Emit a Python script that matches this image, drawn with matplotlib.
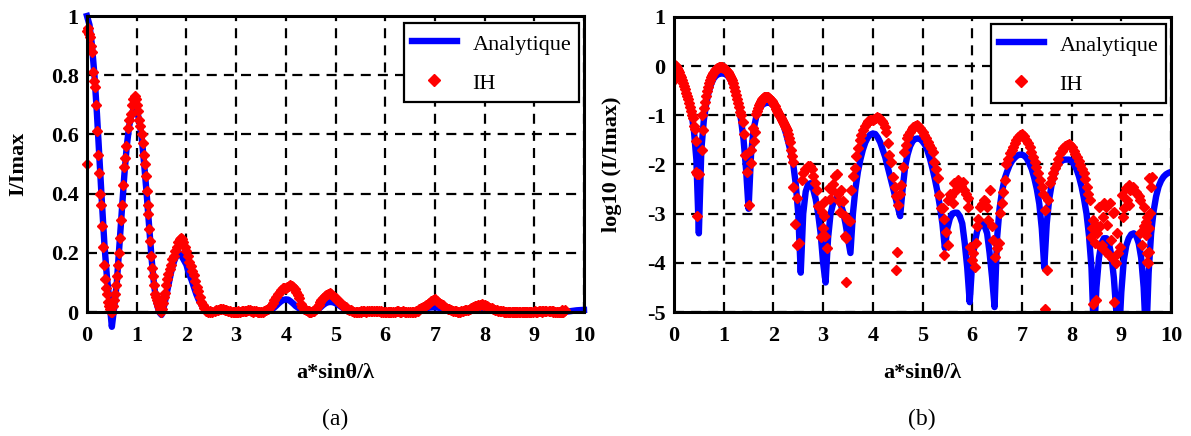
import numpy as np
import matplotlib.pyplot as plt

# analytic curve, log10(I/Imax), sampled every 0.05 from 0 to 10
ana_step = 0.05
ana_log = [
    0.0, -0.03, -0.1, -0.2, -0.33, -0.5, -0.7, -0.95, -1.3, -1.9,
    -3.4, -1.7, -1.1, -0.75, -0.52, -0.36, -0.25, -0.19, -0.16, -0.15,
    -0.15, -0.17, -0.22, -0.3, -0.42, -0.58, -0.8, -1.1, -1.5, -2.1,
    -2.9, -1.8, -1.3, -1.05, -0.9, -0.82, -0.77, -0.75, -0.74, -0.76,
    -0.8, -0.87, -0.95, -1.06, -1.2, -1.36, -1.55, -1.75, -2.0, -2.4,
    -3.0, -4.2, -3.0, -2.55, -2.4, -2.38, -2.5, -2.7, -3.0, -3.4,
    -4.0, -4.4, -3.5, -3.0, -2.8, -2.7, -2.7, -2.8, -2.95, -3.2,
    -3.5, -3.8, -3.0, -2.5, -2.15, -1.9, -1.7, -1.55, -1.45, -1.39,
    -1.37, -1.38, -1.45, -1.55, -1.7, -1.85, -2.05, -2.25, -2.45, -2.65,
    -2.85, -3.05, -2.5, -2.05, -1.8, -1.63, -1.53, -1.48, -1.47, -1.48,
    -1.53, -1.6, -1.72, -1.88, -2.08, -2.3, -2.55, -2.85, -3.2, -3.7,
    -3.3, -3.1, -3.0, -2.98, -2.98, -3.05, -3.2, -3.6, -4.1, -4.8,
    -4.0, -3.6, -3.35, -3.25, -3.2, -3.25, -3.4, -3.8, -4.3, -4.9,
    -3.5, -2.9, -2.55, -2.3, -2.15, -2.02, -1.93, -1.87, -1.82, -1.8,
    -1.8, -1.82, -1.88, -1.98, -2.1, -2.28, -2.5, -2.8, -3.3, -4.1,
    -3.2, -2.7, -2.4, -2.2, -2.07, -1.98, -1.93, -1.9, -1.9, -1.9,
    -1.93, -2.0, -2.1, -2.25, -2.45, -2.7, -3.0, -3.45, -4.1, -5.5,
    -4.5, -3.9, -3.6, -3.5, -3.5, -3.6, -3.85, -4.3, -5.0, -5.6,
    -4.6, -3.95, -3.65, -3.5, -3.42, -3.4, -3.45, -3.6, -3.9, -4.5,
    -5.6, -4.2, -3.4, -2.95, -2.65, -2.45, -2.33, -2.25, -2.2, -2.17,
    -2.15,
]

# analytic curve, linear I/Imax, for x = 0 .. 2.45 (rest follows the log data)
ana_lin_head = [
    1.0, 0.97, 0.9, 0.8, 0.67, 0.52, 0.37, 0.23, 0.12, 0.04,
    -0.05, 0.02, 0.1, 0.22, 0.34, 0.46, 0.56, 0.63, 0.67, 0.69,
    0.68, 0.65, 0.59, 0.5, 0.4, 0.29, 0.18, 0.09, 0.03, 0.0,
    -0.01, 0.02, 0.06, 0.1, 0.14, 0.17, 0.19, 0.2, 0.19, 0.175,
    0.16, 0.13, 0.11, 0.085, 0.06, 0.04, 0.025, 0.013, 0.006, 0.002,
]

# IH points, linear, x < 2.4
ih_lin_pts = [
    (0.0, 0.5), (0.00, 0.95), (0.02, 0.96), (0.04, 0.94), (0.06, 0.93), (0.09, 0.9),
    (0.11, 0.88), (0.13, 0.81), (0.15, 0.78), (0.17, 0.76), (0.19, 0.70), (0.21, 0.61),
    (0.23, 0.53), (0.25, 0.47), (0.27, 0.40), (0.28, 0.36), (0.30, 0.29), (0.32, 0.22),
    (0.34, 0.16), (0.36, 0.11), (0.38, 0.08), (0.40, 0.06), (0.42, 0.035), (0.44, 0.02),
    (0.46, 0.01), (0.48, 0.0), (0.50, 0.0), (0.52, 0.02), (0.54, 0.04), (0.56, 0.06),
    (0.58, 0.09), (0.60, 0.12), (0.62, 0.16), (0.64, 0.20), (0.66, 0.25), (0.68, 0.31),
    (0.70, 0.36), (0.72, 0.43), (0.74, 0.49), (0.76, 0.52), (0.79, 0.56), (0.82, 0.62),
    (0.85, 0.65), (0.88, 0.67), (0.91, 0.70), (0.93, 0.72), (0.96, 0.73), (0.98, 0.72),
    (1.00, 0.70), (1.02, 0.68), (1.04, 0.65), (1.07, 0.63), (1.10, 0.60), (1.12, 0.57),
    (1.14, 0.53), (1.16, 0.50), (1.18, 0.46), (1.20, 0.41), (1.22, 0.36), (1.23, 0.33),
    (1.25, 0.28), (1.26, 0.24), (1.28, 0.19), (1.30, 0.15), (1.32, 0.12), (1.34, 0.09),
    (1.36, 0.06), (1.38, 0.05), (1.40, 0.04), (1.42, 0.03), (1.44, 0.02), (1.46, 0.01),
    (1.48, 0.0), (1.50, 0.01), (1.52, 0.03), (1.54, 0.05), (1.56, 0.065), (1.58, 0.09),
    (1.60, 0.11), (1.63, 0.13), (1.66, 0.145), (1.69, 0.16), (1.72, 0.18), (1.75, 0.19),
    (1.78, 0.205), (1.81, 0.22), (1.84, 0.235), (1.87, 0.245), (1.90, 0.25), (1.92, 0.245),
    (1.94, 0.235), (1.97, 0.22), (2.00, 0.205), (2.03, 0.19), (2.06, 0.17), (2.09, 0.155),
    (2.12, 0.14), (2.15, 0.125), (2.18, 0.105), (2.21, 0.085), (2.24, 0.07), (2.27, 0.05),
    (2.30, 0.035), (2.33, 0.022), (2.36, 0.012), (2.39, 0.006),
]

# IH points, log10(I/Imax)
ih_log_pts = [
    (0.0, -0.28), (0.02, 0.02), (0.04, 0.0), (0.06, -0.03), (0.08, -0.07), (0.10, -0.12),
    (0.12, -0.17), (0.14, -0.22), (0.16, -0.28), (0.18, -0.34), (0.20, -0.40), (0.22, -0.47),
    (0.24, -0.54), (0.26, -0.60), (0.28, -0.67), (0.30, -0.75), (0.32, -0.83), (0.34, -0.92),
    (0.36, -1.0), (0.38, -1.05), (0.40, -1.22), (0.42, -1.28), (0.44, -1.53), (0.45, -2.15),
    (0.47, -2.2), (0.47, -3.05), (0.51, -2.2), (0.56, -1.7), (0.59, -1.3), (0.57, -1.0),
    (0.60, -0.85), (0.62, -0.72), (0.64, -0.6), (0.66, -0.5), (0.68, -0.42), (0.70, -0.35),
    (0.72, -0.28), (0.74, -0.23), (0.76, -0.18), (0.78, -0.14), (0.80, -0.11), (0.82, -0.08),
    (0.84, -0.06), (0.86, -0.04), (0.88, -0.03), (0.90, -0.02), (0.92, -0.02), (0.94, -0.02),
    (0.96, -0.02), (0.98, -0.03), (1.00, -0.04), (1.02, -0.05), (1.04, -0.07), (1.06, -0.09),
    (1.08, -0.12), (1.10, -0.15), (1.12, -0.19), (1.14, -0.24), (1.16, -0.29), (1.18, -0.35),
    (1.20, -0.42), (1.22, -0.5), (1.24, -0.58), (1.26, -0.66), (1.28, -0.75), (1.30, -0.84),
    (1.32, -0.93), (1.35, -1.0), (1.38, -1.13), (1.41, -1.37), (1.43, -1.8), (1.47, -2.15),
    (1.50, -2.82), (1.54, -1.97), (1.55, -1.7), (1.58, -1.25), (1.60, -1.52), (1.63, -1.33),
    (1.65, -0.97), (1.68, -0.92), (1.70, -0.85), (1.72, -0.79), (1.74, -0.74), (1.76, -0.7),
    (1.78, -0.67), (1.80, -0.65), (1.82, -0.63), (1.84, -0.62), (1.86, -0.62), (1.88, -0.62),
    (1.90, -0.63), (1.92, -0.64), (1.94, -0.66), (1.96, -0.68), (1.98, -0.71), (2.00, -0.74),
    (2.02, -0.78), (2.04, -0.82), (2.06, -0.87), (2.08, -0.92), (2.10, -0.96), (2.12, -0.99),
    (2.14, -1.02), (2.16, -1.06), (2.18, -1.1), (2.20, -1.14), (2.22, -1.18), (2.24, -1.21),
    (2.26, -1.25), (2.28, -1.3), (2.30, -1.38), (2.32, -1.46), (2.34, -1.54), (2.36, -1.7),
    (2.38, -1.82), (2.40, -1.94), (2.40, -2.45), (2.44, -3.2), (2.47, -2.69), (2.48, -3.63),
    (2.51, -3.6), (2.57, -2.31), (2.60, -2.17), (2.63, -2.1), (2.67, -2.07), (2.70, -2.03),
    (2.74, -2.04), (2.77, -2.1), (2.80, -2.24), (2.84, -2.38), (2.87, -2.51), (2.90, -2.85),
    (2.94, -2.85), (2.96, -3.48), (2.97, -2.97), (3.00, -3.3), (3.01, -3.05), (3.04, -2.75),
    (3.04, -3.46), (3.07, -3.7), (3.11, -2.47), (3.14, -2.7), (3.17, -2.51), (3.20, -2.4),
    (3.24, -2.24), (3.27, -2.2), (3.29, -2.6), (3.31, -2.75), (3.34, -2.97), (3.37, -2.51),
    (3.40, -2.75), (3.44, -3.05), (3.44, -3.45), (3.47, -3.49), (3.47, -4.38), (3.50, -3.12),
    (3.54, -3.15), (3.57, -2.51), (3.61, -2.24), (3.64, -2.07), (3.67, -1.83), (3.71, -1.66),
    (3.74, -1.5), (3.77, -1.4), (3.81, -1.3), (3.84, -1.22), (3.88, -1.16), (3.91, -1.12),
    (3.94, -1.09), (3.97, -1.1), (4.00, -1.1), (4.03, -1.07), (4.06, -1.05), (4.09, -1.04),
    (4.12, -1.05), (4.15, -1.08), (4.18, -1.11), (4.21, -1.16), (4.24, -1.24), (4.27, -1.33),
    (4.30, -1.57), (4.33, -1.81), (4.37, -1.94), (4.40, -2.25), (4.44, -2.45), (4.47, -2.65),
    (4.51, -2.82), (4.48, -3.77), (4.46, -4.14), (4.54, -2.6), (4.57, -2.42), (4.61, -2.05),
    (4.63, -1.74), (4.66, -1.6), (4.68, -1.47), (4.71, -1.4), (4.74, -1.33), (4.78, -1.27),
    (4.81, -1.23), (4.85, -1.21), (4.88, -1.2), (4.91, -1.22), (4.94, -1.26), (4.97, -1.3),
    (5.01, -1.33), (5.04, -1.4), (5.08, -1.47), (5.11, -1.54), (5.14, -1.6), (5.18, -1.67),
    (5.21, -1.74), (5.24, -1.94), (5.28, -2.1), (5.31, -2.28), (5.34, -2.62), (5.37, -2.89),
    (5.41, -2.88), (5.44, -3.1), (5.44, -3.84), (5.47, -3.37), (5.51, -3.64), (5.51, -2.72),
    (5.55, -2.6), (5.58, -2.65), (5.61, -2.78), (5.64, -2.38), (5.68, -2.51), (5.71, -2.31),
    (5.74, -2.4), (5.78, -2.44), (5.81, -2.35), (5.84, -2.51), (5.88, -2.6), (5.91, -2.69),
    (5.92, -2.86), (5.96, -3.67), (5.99, -3.94), (6.02, -3.81), (6.06, -4.08), (6.08, -3.6),
    (6.09, -3.26), (6.12, -3.1), (6.16, -2.86), (6.20, -2.8), (6.23, -2.72), (6.26, -2.75),
    (6.29, -2.86), (6.32, -3.13), (6.36, -2.52), (6.39, -3.26), (6.42, -3.54), (6.46, -3.88),
    (6.49, -3.7), (6.53, -3.6), (6.56, -2.99), (6.59, -2.79), (6.62, -2.55), (6.66, -2.32),
    (6.69, -1.98), (6.72, -1.88), (6.76, -1.77), (6.80, -1.7), (6.83, -1.64), (6.86, -1.57),
    (6.89, -1.5), (6.92, -1.45), (6.96, -1.4), (7.01, -1.37), (7.05, -1.42), (7.09, -1.5),
    (7.12, -1.57), (7.16, -1.64), (7.19, -1.74), (7.23, -1.84), (7.26, -1.95), (7.29, -2.05),
    (7.33, -2.18), (7.36, -2.32), (7.40, -2.45), (7.43, -2.59), (7.46, -2.93), (7.50, -4.15),
    (7.46, -4.93), (7.53, -2.72), (7.56, -2.38), (7.60, -2.28), (7.63, -2.18), (7.66, -2.08),
    (7.70, -1.98), (7.73, -1.88), (7.77, -1.77), (7.80, -1.72), (7.83, -1.67), (7.87, -1.63),
    (7.90, -1.6), (7.94, -1.58), (7.97, -1.6), (8.01, -1.65), (8.04, -1.72), (8.07, -1.78),
    (8.10, -1.84), (8.14, -1.92), (8.17, -2.01), (8.20, -2.1), (8.24, -2.18), (8.27, -2.3),
    (8.30, -2.45), (8.33, -2.6), (8.37, -2.72), (8.40, -3.47), (8.42, -3.3), (8.44, -3.13),
    (8.44, -4.83), (8.47, -3.6), (8.49, -3.23), (8.50, -4.76), (8.52, -3.4), (8.56, -2.86),
    (8.57, -3.26), (8.60, -3.67), (8.62, -3.64), (8.64, -3.06), (8.66, -2.79), (8.69, -3.77),
    (8.70, -2.86), (8.72, -3.23), (8.76, -3.84), (8.77, -2.79), (8.79, -3.54), (8.82, -3.91),
    (8.84, -2.99), (8.86, -2.96), (8.86, -4.8), (8.89, -4.01), (8.91, -3.4), (8.94, -3.81),
    (8.97, -3.67), (9.02, -2.62), (9.04, -3.06), (9.06, -2.89), (9.09, -2.48), (9.11, -2.72),
    (9.15, -2.42), (9.16, -2.82), (9.18, -2.52), (9.22, -2.48), (9.24, -2.45), (9.29, -2.55),
    (9.31, -2.59), (9.35, -2.65), (9.38, -2.72), (9.38, -3.4), (9.42, -3.64), (9.45, -2.86),
    (9.45, -3.26), (9.49, -3.16), (9.49, -3.43), (9.51, -3.06), (9.51, -3.81), (9.52, -3.98),
    (9.54, -4.01), (9.56, -3.3), (9.56, -3.77), (9.56, -2.28), (9.58, -2.99), (9.59, -2.45),
    (9.61, -2.25),
]

x_ticks = list(range(0, 11))
lin_yticks = [0, 0.2, 0.4, 0.6, 0.8, 1]
lin_ylabels = ['0', '0.2', '0.4', '0.6', '0.8', '1']
log_yticks = [-5, -4, -3, -2, -1, 0, 1]

# ---- derived arrays
ana_log = np.array(ana_log)
ana_x = np.arange(len(ana_log)) * ana_step
ana_lin = np.concatenate([ana_lin_head, 10 ** ana_log[len(ana_lin_head):]])

ih_log = np.array(ih_log_pts)
ih_lin_a = np.array(ih_lin_pts)
tail = ih_log[ih_log[:, 0] >= 2.4]
ih_lin = np.vstack([ih_lin_a, np.column_stack([tail[:, 0], 10 ** tail[:, 1]])])

plt.rcParams['font.family'] = ['Liberation Serif', 'DejaVu Serif']
plt.rcParams['axes.unicode_minus'] = False

BLUE = '#0000ff'
RED = '#ff0000'

fig = plt.figure(figsize=(11.91, 4.36), dpi=100)
ax1 = fig.add_axes([87 / 1191, 1 - 312 / 436, 497 / 1191, 296 / 436])
ax2 = fig.add_axes([674 / 1191, 1 - 312 / 436, 497 / 1191, 295 / 436])


def style(ax):
    ax.set_xlim(0, 10)
    ax.set_xticks(x_ticks)
    ax.grid(True, color='black', linestyle=(0, (4.5, 3.2)), linewidth=1.6, zorder=1)
    ax.set_axisbelow(True)
    for s in ax.spines.values():
        s.set_linewidth(2.2)
        s.set_zorder(5)
    ax.tick_params(length=0, labelsize=16)
    ax.tick_params(axis='x', pad=10)
    ax.tick_params(axis='y', pad=6)
    for lab in ax.get_xticklabels() + ax.get_yticklabels():
        lab.set_fontweight('bold')
    ax.set_xlabel('a*sinθ/λ', fontsize=16, fontweight='bold', labelpad=12)


# (a) linear
ax1.plot(ana_x, ana_lin, color=BLUE, lw=4.6, label='Analytique', zorder=3, clip_on=False,
         solid_joinstyle='round')
ax1.plot(ih_lin[:, 0], ih_lin[:, 1], 'D', color=RED, ms=5.0, mec=RED, ls='none',
         label='IH', zorder=4, clip_on=False)
ax1.set_ylim(0, 1)
ax1.set_yticks(lin_yticks)
ax1.set_yticklabels(lin_ylabels)
ax1.set_ylabel('I/Imax', fontsize=16, fontweight='bold')
ax1.yaxis.set_label_coords(-0.119, 0.5)
style(ax1)

# (b) log
ax2.plot(ana_x, ana_log, color=BLUE, lw=4.6, label='Analytique', zorder=3,
         solid_joinstyle='round')
ax2.plot(ih_log[:, 0], ih_log[:, 1], 'D', color=RED, ms=5.0, mec=RED, ls='none',
         label='IH', zorder=4)
ax2.set_ylim(-5, 1)
ax2.set_yticks(log_yticks)
ax2.set_ylabel('log10 (I/Imax)', fontsize=16, fontweight='bold')
ax2.yaxis.set_label_coords(-0.105, 0.5)
style(ax2)

for ax in (ax1, ax2):
    leg = ax.legend(loc='upper right', bbox_to_anchor=(0.99, 0.976), borderaxespad=0,
                    fontsize=16, numpoints=1, markerscale=1.3, handlelength=2.0,
                    handleheight=1.3, handletextpad=0.72, labelspacing=0.65,
                    borderpad=0.35, fancybox=False, framealpha=1, edgecolor='black')
    leg.get_frame().set_linewidth(1.6)
    leg.set_zorder(6)

fig.text(335 / 1191, 1 - 419 / 436, '(a)', fontsize=17, ha='center', va='center')
fig.text(922 / 1191, 1 - 419 / 436, '(b)', fontsize=17, ha='center', va='center')

fig.savefig('out.png', dpi=100)
